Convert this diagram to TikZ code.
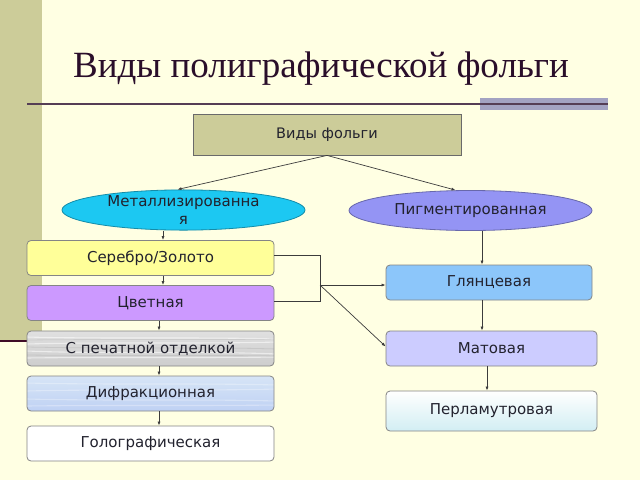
\documentclass[tikz,border=0pt]{standalone}
\usepackage{fontspec}
\setmainfont{Liberation Serif}
\newfontfamily\boxfont{DejaVu Sans}
\usetikzlibrary{shapes.geometric,arrows.meta,calc}
\definecolor{bgcol}{HTML}{FFFFE3}
\definecolor{barcol}{HTML}{CCCC99}
\definecolor{lavbar}{HTML}{A3A3C2}
\definecolor{titlecol}{HTML}{2A0E2A}
\definecolor{rootcol}{HTML}{CCCC99}
\definecolor{metcol}{HTML}{1CC8F2}
\definecolor{pigcol}{HTML}{9494F4}
\definecolor{sercol}{HTML}{FFFF99}
\definecolor{cvetcol}{HTML}{CC99FF}
\definecolor{glcol}{HTML}{8CC6FA}
\definecolor{matcol}{HTML}{CCCCFF}
\definecolor{pechcol}{HTML}{D8D8D8}
\definecolor{difcol}{HTML}{C9DCF3}
\definecolor{percol}{HTML}{D2EEF3}
\definecolor{txtcol}{HTML}{22222E}
\definecolor{linecol}{HTML}{3C3C3C}
\definecolor{bordcol}{HTML}{858585}
\tikzset{
  lbox/.style={draw=bordcol, line width=0.8pt, rounded corners=4pt, minimum width=247pt, minimum height=35pt, inner sep=0pt, font=\boxfont\fontsize{15}{17.5}\selectfont, text=txtcol},
  rbox/.style={lbox, minimum width=211pt},
  ell/.style={ellipse, draw=bordcol, line width=0.8pt, minimum width=243pt, minimum height=40pt, inner sep=0pt, font=\boxfont\fontsize{15}{17.5}\selectfont, text=txtcol, align=center},
  conn/.style={draw=linecol, line width=0.7pt},
  arr/.style={conn, -{Latex[length=4pt,width=3pt]}},
}
\begin{document}
\begin{tikzpicture}[x=1pt,y=-1pt]
\useasboundingbox (0,0) rectangle (640,480);
\fill[bgcol] (0,0) rectangle (640,480);
\fill[barcol] (0,0) rectangle (42,340);
\fill[titlecol!90!red] (0,339.5) rectangle (28,342);
\fill[lavbar] (480,98) rectangle (608,110);
\draw[titlecol!80, line width=1.5pt] (27,104) -- (608,104);
\node[anchor=base, text=titlecol, font=\fontsize{37}{40}\selectfont] (title) at (321,77) {Виды полиграфической фольги};

\node[draw=bordcol!80!black, line width=0.8pt, fill=rootcol, minimum width=268pt, minimum height=41pt, inner sep=0pt, font=\boxfont\fontsize{14.5}{17}\selectfont, text=txtcol] (root) at (327,134.5) {Виды фольги};

\node[ell, fill=metcol, draw=metcol!70!black] (met) at (183.5,210) {Металлизированна\\я};
\node[ell, fill=pigcol, draw=pigcol!70!black] (pig) at (470.5,210.5) {Пигментированная};

\node[lbox, fill=sercol] (ser) at (150.5,258) {Серебро/Золото};
\node[lbox, top color=pechcol!80!white, bottom color=pechcol!95!black,
  path picture={
    \foreach \yy/\dd in {6/2,13/-2,20/3,27/-1}{
      \draw[white, opacity=0.55, line width=1.1pt]
        ([shift={(0,\yy)}]path picture bounding box.north west)
        .. controls +(70,\dd) and +(-70,-\dd) .. +(250,\dd);
    }
    \foreach \yy/\dd in {9/-1,16/2,24/1}{
      \draw[gray, opacity=0.18, line width=0.8pt]
        ([shift={(0,\yy)}]path picture bounding box.north west)
        .. controls +(90,\dd) and +(-60,-\dd) .. +(250,\dd);
    }
  }] (pech) at (150.5,348.5) {С печатной отделкой};
\node[lbox, fill=cvetcol] (cvet) at (150.5,303) {Цветная};
\node[lbox, top color=difcol!75!white, bottom color=difcol!95!blue,
  path picture={
    \foreach \yy/\dd in {7/2,15/-2,23/2,30/-1}{
      \draw[white, opacity=0.3, line width=1.1pt]
        ([shift={(0,\yy)}]path picture bounding box.north west)
        .. controls +(80,\dd) and +(-80,-\dd) .. +(250,\dd);
    }
  }] (dif) at (150.5,393.5) {Дифракционная};
\node[lbox, fill=white] (holo) at (150.5,443.5) {Голографическая};

\node[rbox, minimum width=206pt, fill=glcol] (gl) at (489,282.5) {Глянцевая};
\node[rbox, fill=matcol] (mat) at (491.5,348.5) {Матовая};
\node[rbox, minimum height=40pt, top color=white, bottom color=percol] (per) at (491.5,411) {Перламутровая};

% connectors
\draw[arr] (root.south) -- ([xshift=-6pt]met.north);
\draw[arr] (root.south) -- ([xshift=-15pt]pig.north);

\draw[arr] ([xshift=12.5pt]ser.north |- met.south) -- ([xshift=12.5pt]ser.north);
\draw[arr] ([xshift=12.5pt]ser.south) -- ([xshift=12.5pt]cvet.north);
\draw[arr] ([xshift=8.5pt]cvet.south) -- ([xshift=8.5pt]pech.north);
\draw[arr] ([xshift=8.5pt]pech.south) -- ([xshift=8.5pt]dif.north);
\draw[arr] ([xshift=8.5pt]dif.south) -- ([xshift=8.5pt]holo.north);

\coordinate (j) at (320,285);
\draw[conn] ([yshift=3pt]ser.east) -- ([yshift=3pt]ser.east -| j) -- ([yshift=2pt]cvet.east -| j) -- ([yshift=2pt]cvet.east);
\draw[arr] (j) -- (j -| gl.west);
\draw[arr] (j) -- ([yshift=2pt]mat.west);

\draw[arr] ([xshift=-7pt]gl.north |- pig.south) -- ([xshift=-7pt]gl.north);
\draw[arr] ([xshift=-7pt]gl.south) -- ([xshift=-7pt]gl.south |- mat.north);
\draw[arr] ([xshift=-4.5pt]mat.south) -- ([xshift=-4.5pt]mat.south |- per.north);
\end{tikzpicture}
\end{document}
